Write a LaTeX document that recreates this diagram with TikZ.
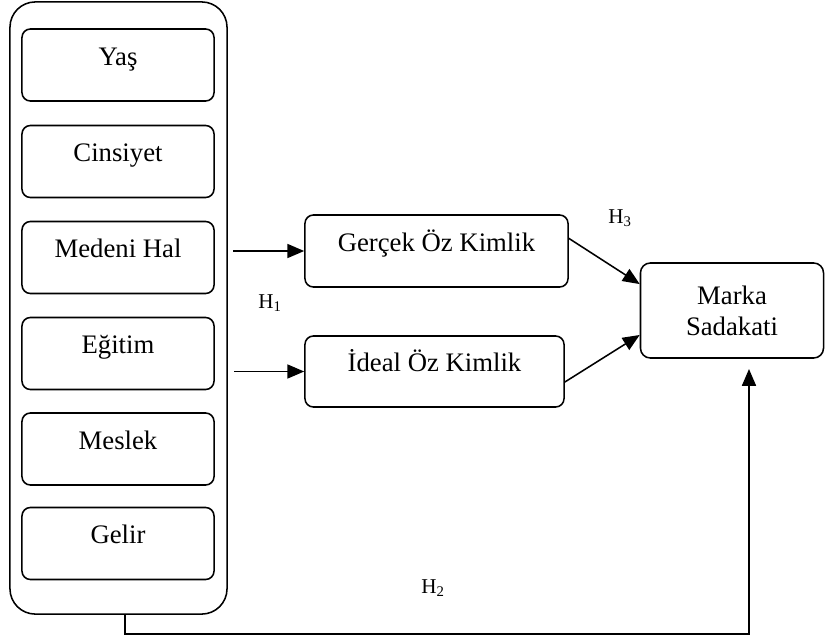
\documentclass[tikz,border=0pt]{standalone}
\usepackage{fontspec}
\setmainfont{Liberation Serif}
\usetikzlibrary{arrows.meta}

\begin{document}
\begin{tikzpicture}[x=0.025cm,y=-0.025cm,
    every node/.style={font=\fontsize{19}{22}\selectfont},
    outer/.style={draw,line width=1.1pt,rounded corners=18pt,inner sep=0pt,
      minimum width=5.425cm,minimum height=15.3cm},
    box/.style={draw,line width=1.1pt,rounded corners=6pt,inner sep=0pt,
      minimum width=4.8cm,minimum height=1.8cm,text height=4mm,text depth=4mm},
    hyp/.style={font=\fontsize{15}{17}\selectfont,inner sep=0pt,anchor=base west},
    arr/.style={line width=1.1pt,-{Triangle[length=12pt,width=10pt]}}]
      \useasboundingbox (0,0) rectangle (825,640);
      \draw
        (118.5,308) node[outer] (grup){}
        (118,65) node[box] (yas){Yaş}
        (118,161.5) node[box] (cinsiyet){Cinsiyet}
        (118,257.5) node[box] (medeni){Medeni Hal}
        (118,353.5) node[box] (egitim){Eğitim}
        (118,449) node[box] (meslek){Meslek}
        (118,543.5) node[box] (gelir){Gelir}
        (436.5,251) node[box,minimum width=6.575cm] (gercek){Gerçek Öz Kimlik}
        (434.5,371.5) node[box,minimum width=6.475cm,minimum height=1.775cm] (ideal){İdeal Öz Kimlik}
        (732,310.5) node[box,rounded corners=7pt,minimum width=4.575cm,
          minimum height=2.375cm,text height=,text depth=,align=center] (marka){Marka\\Sadakati};
      \draw
        (258,308) node[hyp] (h1){H\textsubscript{1}}
        (608,223) node[hyp] (h3){H\textsubscript{3}}
        (421,593) node[hyp] (h2){H\textsubscript{2}};
      \coordinate (g1) at (233,251);
      \coordinate (i1) at (234,371.5);
      \coordinate (dip) at (125,634);
      \coordinate (m2) at (749,369);
      \begin{scope}[arr]
        \draw (g1) to (gercek);
        \draw (i1) to (ideal);
        \draw ([yshift=9pt]gercek.east) to ([yshift=18.8pt]marka.west);
        \draw ([yshift=-7.5pt]ideal.east) to ([yshift=-17.4pt]marka.west);
        \draw (grup.south -| dip) -- (dip) -| (m2);
      \end{scope}
    \end{tikzpicture}
\end{document}
